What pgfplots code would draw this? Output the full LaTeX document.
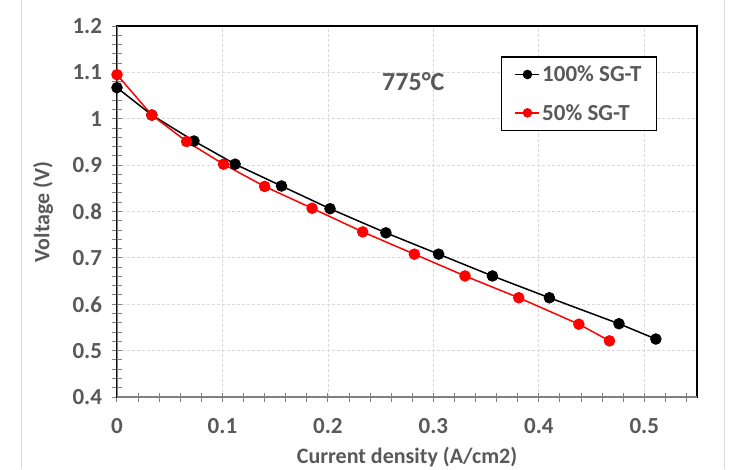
\documentclass[border=0pt]{standalone}
\usepackage{pgfplots}
\pgfplotsset{compat=1.18}
\usepackage{fontspec}
\setmainfont{Carlito}
\definecolor{txtgray}{HTML}{595959}
\definecolor{gridgray}{HTML}{D9D9D9}
\definecolor{axgray}{HTML}{808080}
\definecolor{redpt}{HTML}{FF0000}

\begin{document}
\begin{tikzpicture}
\useasboundingbox (-117pt,-72pt) rectangle (621pt,397pt);
% slide edges
\draw[gridgray, line width=1pt] (-95pt,-72pt) -- (-95pt,397pt);
\draw[gridgray, line width=1pt] (607pt,-72pt) -- (607pt,397pt);
\begin{axis}[
    at={(0,0)}, anchor=south west,
    scale only axis,
    width=580pt, height=371pt,
    xmin=0, xmax=0.55,
    ymin=0.4, ymax=1.2,
    xtick={0,0.1,0.2,0.3,0.4,0.5},
    ytick={0.4,0.5,0.6,0.7,0.8,0.9,1,1.1,1.2},
    minor xtick={0.02,0.04,0.06,0.08,0.12,0.14,0.16,0.18,0.22,0.24,0.26,0.28,0.32,0.34,0.36,0.38,0.42,0.44,0.46,0.48,0.52,0.54},
    minor ytick={0.42,0.44,0.46,0.48,0.52,0.54,0.56,0.58,0.62,0.64,0.66,0.68,0.72,0.74,0.76,0.78,0.82,0.84,0.86,0.88,0.92,0.94,0.96,0.98,1.02,1.04,1.06,1.08,1.12,1.14,1.16,1.18},
    tick pos=left,
    tick align=center,
    major tick length=9pt,
    minor tick length=9pt,
    every tick/.style={axgray, line width=1pt},
    grid=major,
    major grid style={gridgray, dash pattern=on 3pt off 2pt, line width=0.8pt},
    axis line style={black, line width=1.8pt},
    /pgf/number format/assume math mode=true,
    tick label style={font=\fontsize{23}{27}\selectfont\bfseries, text=txtgray},
    yticklabel style={xshift=-7pt},
    xticklabel style={yshift=-13pt},
    label style={font=\fontsize{22}{26}\selectfont\bfseries, text=txtgray},
    xlabel={Current density (A/cm2)},
    ylabel={Voltage (V)},
    x label style={at={(axis description cs:0.5,-0.163)}, anchor=center},
    y label style={at={(axis description cs:-0.1276,0.499)}, anchor=center},
    legend cell align=left,
    legend style={at={(rel axis cs:0.662,0.919)}, anchor=north west,
        draw=black, line width=1.5pt,
        font=\fontsize{23}{27}\selectfont\bfseries, text=txtgray,
        inner xsep=13pt, inner ysep=7pt, row sep=17pt},
    legend image code/.code={
        \draw[mark repeat=2, mark phase=2, #1, mark size=4pt]
        plot coordinates {(0pt,0pt) (12pt,0pt) (24pt,0pt)};
    },
]
\addplot[black, line width=1.5pt, mark=*, mark size=5pt] coordinates {
    (0,1.067) (0.033,1.008) (0.073,0.952) (0.112,0.902) (0.156,0.855)
    (0.202,0.806) (0.255,0.754) (0.305,0.708) (0.356,0.661) (0.410,0.614)
    (0.476,0.558) (0.511,0.525)
};
\addplot[redpt, line width=1.5pt, mark=*, mark size=5pt] coordinates {
    (0,1.095) (0.033,1.008) (0.066,0.951) (0.101,0.902) (0.140,0.854)
    (0.185,0.807) (0.233,0.756) (0.282,0.708) (0.330,0.661) (0.381,0.614)
    (0.438,0.557) (0.467,0.521)
};
\legend{100\% SG-T, 50\% SG-T}
\node[font=\fontsize{26}{30}\selectfont\bfseries, text=txtgray]
    at (axis cs:0.281,1.081) {775°C};
% left and bottom axis lines are grey
\draw[axgray, line width=2pt] (rel axis cs:0,1) -- (rel axis cs:0,0) -- (rel axis cs:1,0);
\end{axis}
\end{tikzpicture}
\end{document}
